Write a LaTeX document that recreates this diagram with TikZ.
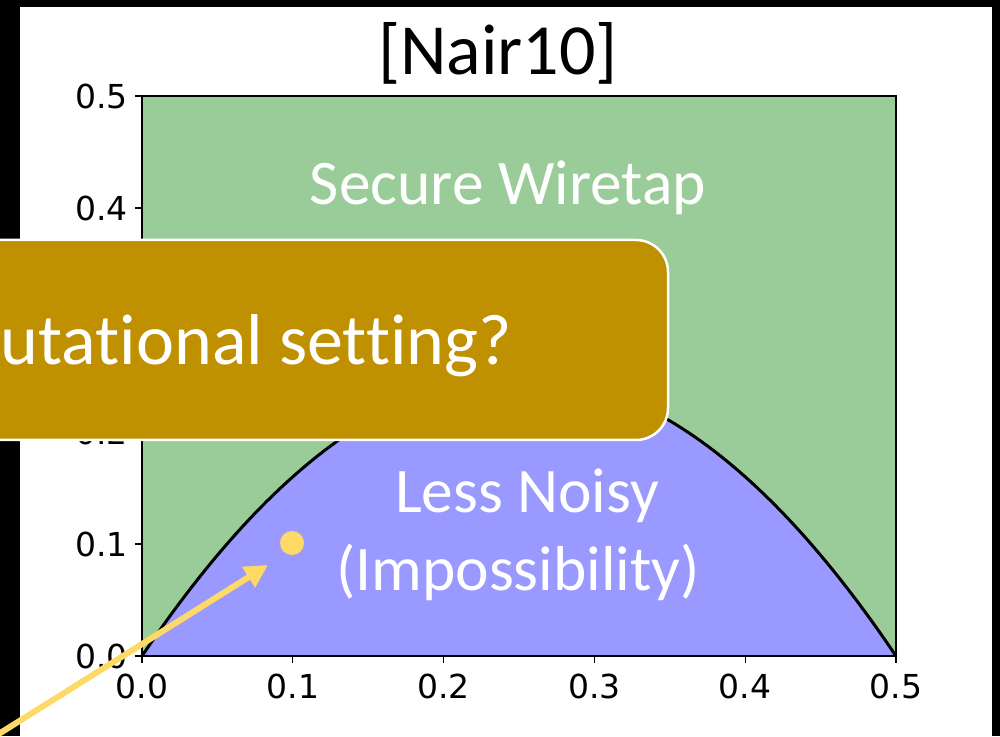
\documentclass[tikz,border=0pt]{standalone}
\usepackage{fontspec}
\setmainfont{Carlito}[Ligatures={NoCommon,NoRare,NoContextual}]
\newfontfamily\dejavu{DejaVu Sans}
\usetikzlibrary{arrows.meta}
\definecolor{wgreen}{HTML}{99CC99}
\definecolor{lnblue}{HTML}{9999FF}
\definecolor{boxgold}{HTML}{BF9000}
\definecolor{hiyellow}{HTML}{FFD966}
\tikzset{
  spine/.style={line width=1.4pt, draw=black},
  tickmark/.style={line width=1.2pt, draw=black},
  ticklabel/.style={font=\dejavu\fontsize{33}{38}\selectfont, text=black, inner sep=0pt},
  whitelabel/.style={font=\fontsize{63.5}{76}\selectfont, text=white, inner sep=0pt},
  titlelabel/.style={font=\fontsize{72}{86}\selectfont, text=black, inner sep=0pt},
  calloutbox/.style={draw=white, line width=2.5pt, fill=boxgold, rounded corners=32pt, inner sep=0pt},
  callouttext/.style={font=\fontsize{72}{86}\selectfont, text=white, inner sep=0pt},
  hidot/.style={circle, fill=hiyellow, inner sep=0pt, minimum size=24pt},
  hiarrow/.style={draw=hiyellow, line width=6pt, -{Triangle[length=23pt,width=23pt]}}
}
\begin{document}
\begin{tikzpicture}[x=1pt,y=1pt]
\useasboundingbox (0,0) rectangle (1000,736);
% frame
\fill[black] (0,0) rectangle (1000,736);
\fill[white] (20,0) rectangle (992,729);
% regions
\fill[wgreen] (142,80) rectangle (896,640);
\fill[lnblue] plot[domain=0:0.5, samples=121, variable=\t] ({142+1508*\t},{80+2240*\t*(1-2*\t)}) -- cycle;
\draw[line width=3pt, line join=round] plot[domain=0:0.5, samples=121, variable=\t] ({142+1508*\t},{80+2240*\t*(1-2*\t)});
\draw[spine] (142,80) rectangle (896,640);
% ticks
\foreach \k in {0,...,5} {
  \draw[tickmark] ({142+150.8*\k},80) -- ({142+150.8*\k},73);
  \draw[tickmark] (142,{80+112*\k}) -- (135,{80+112*\k});
}
\foreach \k/\lab in {0/0.0,1/0.1,2/0.2,3/0.3,4/0.4,5/0.5} {
  \node[ticklabel] (xl\k) at ({142+150.8*\k},50) {\lab};
}
\foreach \k/\lab in {0/0.0,1/0.1,2/0.2,4/0.4,5/0.5} {
  \node[ticklabel, anchor=east] (yl\k) at (128,{80+112*\k}) {\lab};
}
% texts
\node[titlelabel, anchor=base] (title) at (498,661) {[Nair10]};
\node[whitelabel, anchor=base] (secure) at (508,531) {Secure Wiretap};
\node[whitelabel, anchor=base] (lessnoisy) at (527,223) {Less Noisy};
\node[whitelabel, anchor=base] (impossibility) at (518,146) {(Impossibility)};
% callout
\node[calloutbox, minimum width=708pt, minimum height=200pt] (question) at (314,396) {};
\node[callouttext, anchor=base east] (questiontext) at (512,371) {utational setting?};
% highlight
\node[hidot] (dot) at (292,193) {};
\coordinate (arrowstart) at (-30,-16);
\coordinate (arrowtip) at (268,171);
\draw[hiarrow] (arrowstart) -- (arrowtip);
\end{tikzpicture}
\end{document}
